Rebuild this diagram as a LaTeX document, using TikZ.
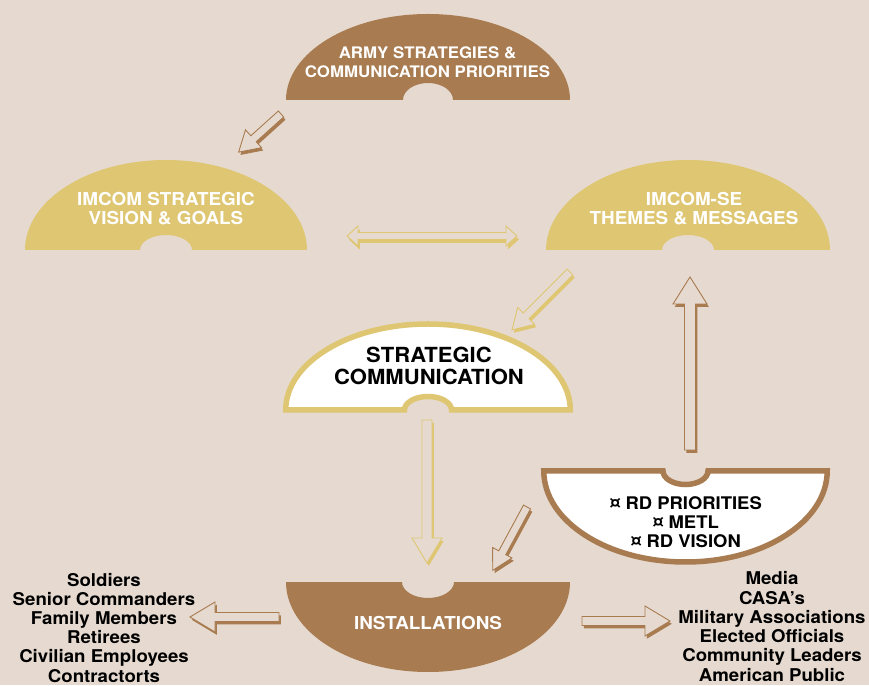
\documentclass[tikz,border=0pt]{standalone}
\usepackage{fontspec}
\setmainfont{TeX Gyre Heros}[FakeStretch=1.06]
\definecolor{bgc}{RGB}{230,218,208}
\definecolor{brn}{RGB}{168,123,80}
\definecolor{gld}{RGB}{222,198,114}
\newcommand\dome[7]{\path[#7] ({#1-#3},#2) arc[start angle=180,end angle=0,x radius=#3pt,y radius=#4pt] -- ({#1+#5},#2) arc[start angle=0,end angle=180,x radius=#5pt,y radius=#6pt] -- cycle;}
\newcommand\bowl[7]{\path[#7] ({#1-#3},#2) arc[start angle=180,end angle=360,x radius=#3pt,y radius=#4pt] -- ({#1+#5},#2) arc[start angle=0,end angle=-180,x radius=#5pt,y radius=#6pt] -- cycle;}
\newcommand\blkarrow[8]{%
 \begin{scope}[shift={(#2,#3)}]
 \fill[#1,shift={(1.8,-2.8)},rotate=#4] (0,-#6) -- ({#5-#8},-#6) -- ({#5-#8},-#7) -- (#5,0) -- ({#5-#8},#7) -- ({#5-#8},#6) -- (0,#6) -- cycle;
 \filldraw[fill=bgc,draw=#1,line width=0.9pt,rotate=#4] (0,-#6) -- ({#5-#8},-#6) -- ({#5-#8},-#7) -- (#5,0) -- ({#5-#8},#7) -- ({#5-#8},#6) -- (0,#6) -- cycle;
 \end{scope}}
\tikzset{
 lbl/.style={anchor=base,inner sep=0pt},
 wt/.style={lbl,text=white},
 bk/.style={lbl,text=black},
 fa/.style={font=\bfseries\fontsize{15.9}{16}\selectfont},
 fb/.style={font=\bfseries\fontsize{17.8}{18}\selectfont},
 fc/.style={font=\bfseries\fontsize{20.8}{21}\selectfont},
 fd/.style={font=\bfseries\fontsize{17.4}{18}\selectfont},
 fe/.style={font=\bfseries\fontsize{17.6}{18}\selectfont},
}
\begin{document}
\begin{tikzpicture}[x=1pt,y=1pt]
\useasboundingbox (0,0) rectangle (869,685);
\fill[bgc] (0,0) rectangle (869,685);
% shapes
\dome{428}{585}{142}{86}{25}{17}{fill=brn}
\dome{166}{435}{141}{90}{26}{15}{fill=gld}
\dome{688}{435}{142}{90}{26}{15}{fill=gld}
\dome{428}{275}{142.3}{86}{23.5}{13.5}{fill=white,draw=gld,line width=5.5pt}
\bowl{685.5}{214}{141.7}{91}{22.5}{13.5}{fill=white,draw=brn,line width=5.5pt}
\bowl{428}{103}{142}{90}{26}{16}{fill=brn}
% arrows
\blkarrow{brn}{281}{571}{222}{57}{4}{12}{20}
\blkarrow{gld}{570}{413}{225}{82}{4}{12}{20}
\blkarrow{brn}{690}{235}{90}{173}{5.5}{17}{27}
\blkarrow{gld}{427}{265}{270}{143}{5}{15}{25}
\blkarrow{brn}{527}{178}{241.6}{72}{4}{11}{20}
\blkarrow{brn}{279}{68}{180}{89}{4.5}{15}{25}
\blkarrow{brn}{582}{64}{0}{88}{4.5}{15}{25}
\fill[gld,shift={(1.8,-3.5)}] (347,449) -- (358,459) -- (358,452.5) -- (506,452.5) -- (506,459) -- (517,449) -- (506,439) -- (506,445.5) -- (358,445.5) -- (358,439) -- cycle;
\filldraw[fill=bgc,draw=gld,line width=0.9pt] (347,449) -- (358,459) -- (358,452.5) -- (506,452.5) -- (506,459) -- (517,449) -- (506,439) -- (506,445.5) -- (358,445.5) -- (358,439) -- cycle;
% texts
\node[wt,fa] (a1) at (427.5,626) {ARMY STRATEGIES \&};
\node[wt,fa] (a2) at (427.5,607) {COMMUNICATION PRIORITIES};
\node[wt,fb] (b1) at (166,479) {IMCOM STRATEGIC};
\node[wt,fb] (b2) at (166,460) {VISION \& GOALS};
\node[wt,fb] (c1) at (694,479) {IMCOM-SE};
\node[wt,fb] (c2) at (694,460) {THEMES \& MESSAGES};
\node[bk,fc] (d1) at (429,322) {STRATEGIC};
\node[bk,fc] (d2) at (429,300) {COMMUNICATION};
\node[bk,fd] (e1) at (686,175) {¤ RD PRIORITIES};
\node[bk,fd] (e2) at (686,156) {¤ METL};
\node[bk,fd] (e3) at (686,137) {¤ RD VISION};
\node[wt,fb] (f1) at (428,56) {INSTALLATIONS};
\node[bk,fe] (l1) at (104,99) {Soldiers};
\node[bk,fe] (l2) at (104,79.8) {Senior Commanders};
\node[bk,fe] (l3) at (104,60.6) {Family Members};
\node[bk,fe] (l4) at (104,41.4) {Retirees};
\node[bk,fe] (l5) at (104,22.2) {Civilian Employees};
\node[bk,fe] (l6) at (104,3) {Contractorts};
\node[bk,fe] (r1) at (772,100) {Media};
\node[bk,fe] (r2) at (772,80.8) {CASA’s};
\node[bk,fe] (r3) at (772,61.6) {Military Associations};
\node[bk,fe] (r4) at (772,42.4) {Elected Officials};
\node[bk,fe] (r5) at (772,23.2) {Community Leaders};
\node[bk,fe] (r6) at (772,4) {American Public};
\end{tikzpicture}
\end{document}
